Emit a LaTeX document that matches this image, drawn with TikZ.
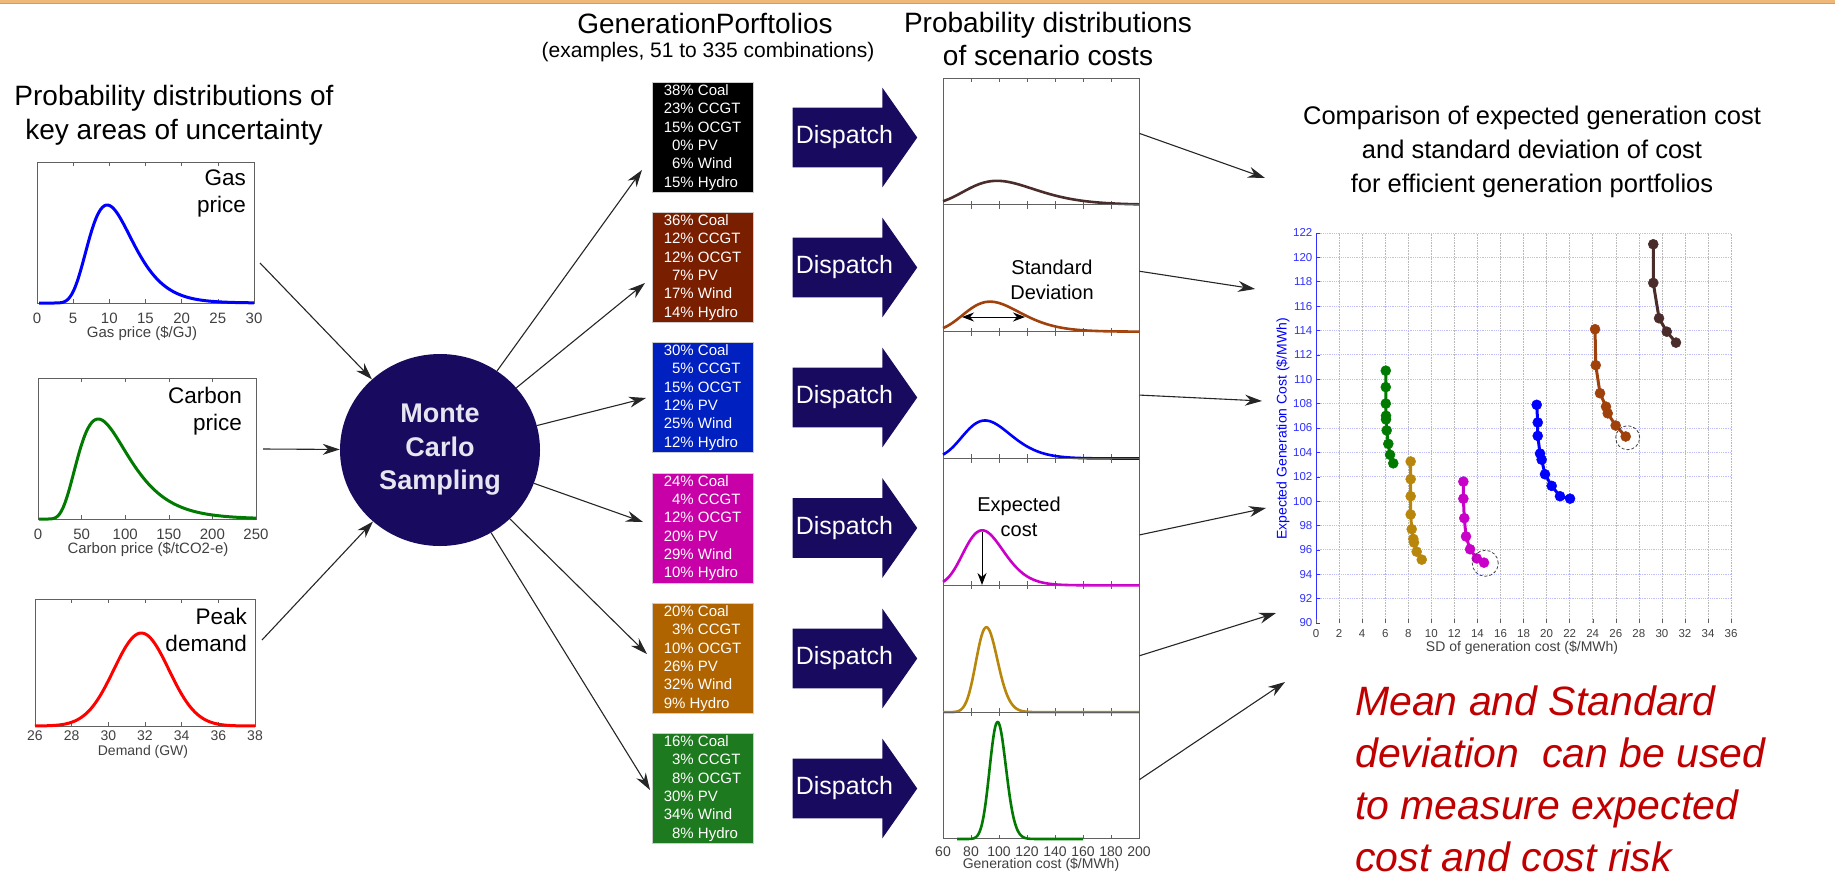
\documentclass[tikz,border=0pt]{standalone}
\usepackage{fontspec}
\setmainfont{Liberation Sans}
\usetikzlibrary{positioning,
        shapes.arrows,
        shapes.geometric,
        arrows.meta}
\usepackage{xcolor}
\newcommand{\setfs}[2]{\fontsize{#1}{#2}\selectfont}

\definecolor{navy}{HTML}{180A5E}
\definecolor{mctext}{HTML}{E6E6F0}
\definecolor{pfbrown}{HTML}{7A1E00}
\definecolor{pfblue}{HTML}{0020C0}
\definecolor{pfmagenta}{HTML}{C800A8}
\definecolor{pforange}{HTML}{B06400}
\definecolor{pfgreen}{HTML}{1E7A1E}
\definecolor{cdark}{HTML}{4A2C2A}
\definecolor{cbrown}{HTML}{A0400A}
\definecolor{cblue}{HTML}{0000FF}
\definecolor{cmag}{HTML}{C800C8}
\definecolor{cgold}{HTML}{B8860B}
\definecolor{cgreen}{HTML}{007A00}
\definecolor{framegray}{HTML}{606060}
\definecolor{labgray}{HTML}{404040}
\definecolor{axisblue}{HTML}{3030FF}
\definecolor{notered}{HTML}{C00000}
\definecolor{topband}{HTML}{F0B878}

\begin{document}
\begin{tikzpicture}[x=1pt,y=-1pt,
    declare function={pk(\x,\m,\s)=exp(max(-20,-(ln(\x/\m))*(ln(\x/\m))/(2*\s*\s)));},
    link/.style={draw=black!85,line width=1.1pt,-{Stealth[length=17pt,width=11pt]}},
    frame/.style={draw=framegray,line width=1pt,inner sep=0pt},
    ticklab/.style={text=labgray,font=\setfs{15}{15},inner sep=0pt},
    costlab/.style={text=labgray,font=\setfs{14}{14},inner sep=0pt},
    plotname/.style={anchor=north east,align=right,font=\setfs{22.5}{27},inner sep=0pt},
    heading/.style={align=center,font=\setfs{28}{34},inner sep=0pt},
    pfbox/.style={fill=#1,draw=gray!40,line width=0.8pt,text=white,font=\setfs{15}{18.3},align=left,
        minimum width=101pt,inner xsep=0pt,inner ysep=0pt,minimum height=110pt},
    dispatch/.style={single arrow,fill=navy,text=white,font=\setfs{25}{30},minimum height=117pt,
        single arrow head extend=20pt,single arrow tip angle=110,inner xsep=3pt,inner ysep=18pt},
    mcnode/.style={ellipse,fill=navy,minimum width=200pt,minimum height=192pt,text=mctext,
        font=\bfseries\setfs{27}{33.5},align=center,inner sep=0pt},
    panelnote/.style={align=center,font=\setfs{20}{25},inner sep=0pt},
    series/.style={draw=#1,line width=3pt,mark=*,mark size=5pt,mark options={draw=#1,fill=#1,line width=0.5pt}},
    vgrid/.style={draw=gray!55,densely dotted,line width=0.6pt},
    hgrid/.style={draw=blue!25,densely dotted,line width=0.8pt},
    ring/.style={draw=black!75,densely dashed,line width=0.8pt},
    note/.style={text=notered,font=\itshape\setfs{41}{52},align=left,inner sep=0pt}]

\useasboundingbox (0,0) rectangle (1835,884);
\fill[topband] (0,0) rectangle (1835,2.5);
\draw[gray!70,line width=0.8pt] (0,3) -- (1835,3);

% input distributions
\node[heading] (lefthead) at (174,115) {Probability distributions of\\key areas of uncertainty};

\node[frame,minimum width=217pt,minimum height=141pt] (gasplot) at (145.5,232.5) {};
\foreach \v in {5,10,...,25}{
    \draw[framegray] ({37+217/30*\v},303) -- ++(0,-4);
    \draw[framegray] ({37+217/30*\v},162) -- ++(0,4);
}
\foreach \v in {0,5,...,30} \node[ticklab] (gt\v) at ({37+217/30*\v},318) {\v};
\node[ticklab] (gaslab) at (142,333) {Gas price (\$/GJ)};
\draw[blue,line width=3pt,line join=round] plot[domain=0.3:30,samples=120,smooth] ({37+217/30*\x},{303-98*pk(\x,9.7,0.32)});
\node[plotname] (gasname) at (246,170) {Gas\\price};

\node[frame,minimum width=218pt,minimum height=141pt] (carbonplot) at (147,448.5) {};
\foreach \v in {50,100,...,200}{
    \draw[framegray] ({38+0.872*\v},519) -- ++(0,-4);
    \draw[framegray] ({38+0.872*\v},378) -- ++(0,4);
}
\foreach \v in {0,50,...,250} \node[ticklab] (ct\v) at ({38+0.872*\v},534) {\v};
\node[ticklab] (carblab) at (148,549) {Carbon price (\$/tCO2-e)};
\draw[cgreen,line width=3pt,line join=round] plot[domain=1:250,samples=120,smooth] ({38+0.872*\x},{519-100*pk(\x,69,0.42)});
\node[plotname] (carbname) at (242,387) {Carbon\\price};

\node[frame,minimum width=220pt,minimum height=127pt] (demplot) at (145,662.5) {};
\foreach \v in {28,30,...,36}{
    \draw[framegray] ({35+220/12*(\v-26)},726) -- ++(0,-4);
    \draw[framegray] ({35+220/12*(\v-26)},599) -- ++(0,4);
}
\foreach \v in {26,28,...,38} \node[ticklab,font=\setfs{14}{14}] (dt\v) at ({35+220/12*(\v-26)},736) {\v};
\node[ticklab,font=\setfs{14}{14}] (demlab) at (143,752) {Demand (GW)};
\draw[red,line width=3pt,line join=round] plot[domain=26:38,samples=100,smooth] ({35+220/12*(\x-26)},{726-93*exp(-(\x-31.8)*(\x-31.8)/4.5)});
\node[plotname] (demname) at (247,608) {Peak\\demand};

% sampling
\node[mcnode] (mc) at (440,450) {Monte\\Carlo\\Sampling};
\coordinate (gasout) at (260,263);
\coordinate (carbout) at (263,449);
\coordinate (demout) at (262,640);
\draw[link] (gasout) -- (mc);
\draw[link] (carbout) -- (mc);
\draw[link] (demout) -- (mc);

% portfolios
\node[heading] (pfhead) at (705,23) {GenerationPorftolios};
\node[font=\setfs{21}{21},inner sep=0pt] (pfsub) at (708,52) {(examples, 51 to 335 combinations)};

\node[pfbox=black] (pf1) at (702.5,137.5) {38\% Coal\\23\% CCGT\\15\% OCGT\\\phantom{1}0\% PV\\\phantom{1}6\% Wind\\15\% Hydro};
\node[pfbox=pfbrown] (pf2) at (702.5,267.5) {36\% Coal\\12\% CCGT\\12\% OCGT\\\phantom{1}7\% PV\\17\% Wind\\14\% Hydro};
\node[pfbox=pfblue] (pf3) at (702.5,397.5) {30\% Coal\\\phantom{1}5\% CCGT\\15\% OCGT\\12\% PV\\25\% Wind\\12\% Hydro};
\node[pfbox=pfmagenta] (pf4) at (702.5,528) {24\% Coal\\\phantom{1}4\% CCGT\\12\% OCGT\\20\% PV\\29\% Wind\\10\% Hydro};
\node[pfbox=pforange] (pf5) at (702.5,658.5) {20\% Coal\\\phantom{1}3\% CCGT\\10\% OCGT\\26\% PV\\32\% Wind\\9\% Hydro};
\node[pfbox=pfgreen] (pf6) at (702.5,788.5) {16\% Coal\\\phantom{1}3\% CCGT\\\phantom{1}8\% OCGT\\30\% PV\\34\% Wind\\\phantom{1}8\% Hydro};

\coordinate (pt1) at (642,170);
\coordinate (pt2) at (645,283);
\coordinate (pt3) at (646,398);
\coordinate (pt4) at (643,522);
\coordinate (pt5) at (647,654);
\coordinate (pt6) at (650,790);
\foreach \k in {1,...,6} \draw[link] (mc) -- (pt\k);

\foreach \k/\yy in {1/137.5,2/267.5,3/397.5,4/528,5/658.5,6/788.5}
    \node[dispatch] (disp\k) at (844.5,\yy) {Dispatch};

% scenario cost distributions
\node[heading,font=\setfs{28}{33}] (costhead) at (1048,38.5) {Probability distributions\\of scenario costs};
\foreach \i/\col/\md/\sg/\hh/\dA/\dB in {1/cdark/98.6/0.255/24/60/200,2/cbrown/93.6/0.216/30/60/200,
        3/cblue/90/0.19/38/60/200,4/cmag/88/0.163/55/60/200,5/cgold/91/0.084/85/60/200,6/cgreen/99/0.059/117/70/160}{
    \pgfmathsetmacro\yb{78+126.83*\i}
    \node[frame,minimum width=196pt,minimum height=126.83pt] (sc\i) at (1041,\yb-63.415) {};
    \foreach \t in {80,100,...,180}{
        \draw[framegray] ({943+1.4*(\t-60)},\yb) -- ++(0,-4);
        \draw[framegray] ({943+1.4*(\t-60)},\yb-126.83) -- ++(0,4);
    }
    \draw[\col,line width=2.6pt,line join=round] plot[domain=\dA:\dB,samples=120,smooth] ({943+1.4*(\x-60)},{\yb-\hh*pk(\x,\md,\sg)});
}
\foreach \t in {60,80,...,200} \node[costlab] (cx\t) at ({943+1.4*(\t-60)},852) {\t};
\node[costlab] (cxlab) at (1041,865) {Generation cost (\$/MWh)};

\node[panelnote] (sdnote) at (1052,280) {Standard\\Deviation};
\coordinate (sdl) at (962,317);
\coordinate (sdr) at (1025,317);
\draw[black,line width=1pt,{Stealth[length=12pt,width=9pt]}-{Stealth[length=12pt,width=9pt]}] (sdl) -- (sdr);
\node[panelnote] (ecnote) at (1019,517) {Expected\\cost};
\coordinate (ecpeak) at (982,532);
\coordinate (ecbase) at (982,585);
\draw[black,line width=1pt,-{Stealth[length=12pt,width=9pt]}] (ecpeak) -- (ecbase);

\coordinate (ch1) at (1265,178);
\coordinate (ch2) at (1255,289);
\coordinate (ch3) at (1262,401);
\coordinate (ch4) at (1266,508);
\coordinate (ch5) at (1276,613);
\coordinate (ch6) at (1285,682);
\draw[link] ([yshift=8pt]sc1.east) -- (ch1);
\draw[link] ([yshift=-3pt]sc2.east) -- (ch2);
\draw[link] (sc3.east) -- (ch3);
\draw[link] ([yshift=-13pt]sc4.east) -- (ch4);
\draw[link] ([yshift=-7pt]sc5.east) -- (ch5);
\draw[link] ([yshift=-4pt]sc6.east) -- (ch6);

% comparison chart
\node[align=center,font=\setfs{25.5}{34},inner sep=0pt] (charthead) at (1532,152) {Comparison of expected generation cost\\and standard deviation of cost\\for efficient generation portfolios};
\begin{scope}[shift={(1316pt,-1720.1pt)},x=11.53pt,y=12.19pt]
    \foreach \v in {2,4,...,36} \draw[vgrid] (\v,90) -- (\v,122);
    \foreach \c in {92,94,...,122} \draw[hgrid] (0,\c) -- (36,\c);
    \draw[axisblue,line width=0.8pt] (0,90) -- (0,122);
    \foreach \c in {90,92,...,122}{
        \draw[axisblue] (0,\c) -- (0.35,\c);
        \node[text=axisblue,font=\setfs{11.5}{11.5},inner sep=0pt,anchor=east] (yl\c) at (-0.3,\c) {\c};
    }
    \foreach \v in {0,2,...,36}{
        \draw[framegray] (\v,90) -- (\v,90.35);
        \node[text=labgray,font=\setfs{11.5}{11.5},inner sep=0pt] (xl\v) at (\v,89.15) {\v};
    }
    \draw[series=cgreen] plot coordinates {(6.05,110.7) (6.05,109.35) (6.05,108.0) (6.07,107.0) (6.07,106.7) (6.13,105.8) (6.27,104.7) (6.42,103.8) (6.7,103.1)};
    \draw[series=cgold] plot coordinates {(8.21,103.25) (8.21,101.8) (8.21,100.4) (8.21,98.9) (8.3,97.7) (8.44,96.9) (8.5,96.6) (8.73,95.85) (9.17,95.2)};
    \draw[series=cmag] plot coordinates {(12.78,101.6) (12.78,100.2) (12.86,98.6) (13.01,97.1) (13.36,96.05) (13.94,95.3) (14.57,94.95)};
    \draw[series=cblue] plot coordinates {(19.14,107.9) (19.23,106.45) (19.23,105.35) (19.43,103.9) (19.57,103.4) (19.86,102.2) (20.44,101.25) (21.16,100.4) (22.03,100.2)};
    \draw[series=cbrown] plot coordinates {(24.2,114.1) (24.26,111.15) (24.63,108.85) (25.15,107.75) (25.3,107.2) (25.99,106.2) (26.86,105.3)};
    \draw[series=cdark] plot coordinates {(29.25,121.07) (29.25,117.9) (29.75,115.0) (30.42,113.9) (31.22,113.0)};
    \draw[ring] (27.03,105.2) circle (12pt);
    \draw[ring] (14.68,94.9) circle (13pt);
\end{scope}
\node[text=labgray,font=\setfs{14}{14},inner sep=0pt] (sdlab) at (1522,648) {SD of generation cost (\$/MWh)};
\node[text=blue,font=\setfs{14}{14},inner sep=0pt,rotate=90] (eclab) at (1283,429) {Expected Generation Cost (\$/MWh)};

\node[note,anchor=north west] (note) at (1355,686) {Mean and Standard\\deviation\ \ can be used\\to measure expected\\cost and cost risk};
\end{tikzpicture}
\end{document}
